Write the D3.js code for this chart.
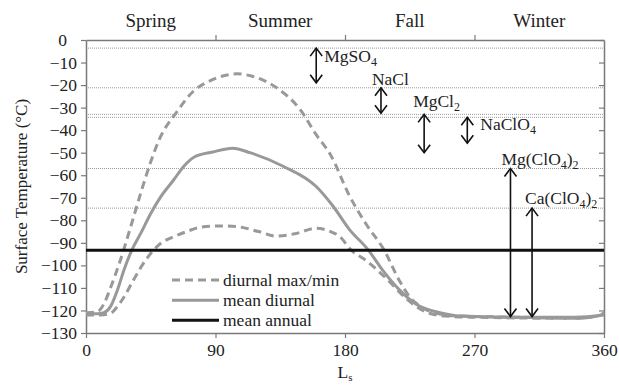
<!DOCTYPE html>
<html>
<head>
<meta charset="utf-8">
<script src="https://cdn.jsdelivr.net/npm/d3@7"></script>
<style>
  body { margin: 0; background: #fff; }
  svg text { font-family: "Liberation Serif", "Times New Roman", serif !important; fill: #222; }
</style>
</head>
<body>
<div id="chart"></div>
<script>
// seasons and ticks
const seasons = ['Spring', 'Summer', 'Fall', 'Winter'];
const seasonLs = [45, 135, 225, 315];
const xTicks = [0, 90, 180, 270, 360];
const yTicks = d3.range(0, -131, -10);

// diurnal max (dashed, upper)
const maxLs = [0, 8, 12.5, 17, 24, 31, 38, 45, 51, 63, 75, 85, 95, 105, 115, 132, 149, 160, 170, 183, 195, 207, 218, 225, 232, 245, 260, 300, 340, 355, 360];
const maxT = [-121, -120.5, -117, -110, -97.5, -83, -68, -54, -44, -32, -22.5, -18.5, -16, -15, -16, -21, -31, -42, -51, -69, -82, -93, -107, -114, -118, -121.5, -122.5, -123, -123.5, -122.5, -121];

// diurnal min (dashed, lower)
const minLs = [0, 10, 17, 21.8, 26.4, 33, 40, 47, 52, 61, 70, 80, 95, 105, 120, 132, 145, 160, 170, 176, 184, 195, 209, 223, 234, 250, 270, 340, 355, 360];
const minT = [-122, -122, -121.3, -118.3, -114, -106.5, -99, -93.2, -90.2, -87.3, -85, -83, -82.5, -82.8, -85, -87, -86, -83.5, -85, -87, -93, -98, -106, -115, -120, -122.5, -123, -123.5, -122.5, -121.5];

// mean diurnal (solid grey)
const meanLs = [0, 8, 12.5, 17, 21.8, 26.4, 32, 38, 45, 52, 61, 68, 75, 88, 102, 114, 137, 160, 172, 183, 196, 206, 218, 230, 246, 260, 300, 340, 360];
const meanT = [-121.5, -121.5, -121, -118.3, -111, -102, -93, -85.8, -77, -69.5, -62, -56, -52, -49.7, -48, -50, -56, -65, -74, -84, -93, -102, -111, -117.5, -121, -122.5, -123, -123, -122];

const meanAnnual = -93.3;

// salt eutectics and the arrows under them
const salts = ['MgSO4', 'NaCl', 'MgCl2', 'NaClO4', 'Mg(ClO4)2', 'Ca(ClO4)2'];
const eutectic = [-3.6, -21.2, -33, -34.3, -57, -74.6];
const arrowLs = [160, 205, 235, 265, 295, 310];
const arrowLow = [-19, -32.5, -50, -45.8, -122.7, -122.7];

const width = 619, height = 386;
const margin = { top: 40, right: 15, bottom: 53, left: 86 };
const serif = '"Liberation Serif", "Times New Roman", serif';

const svg = d3.select('#chart').append('svg')
  .attr('width', width)
  .attr('height', height)
  .attr('font-family', serif);

const x = d3.scaleLinear().domain([0, 360]).range([margin.left, width - margin.right]);
const y = d3.scaleLinear().domain([-130, 0]).range([height - margin.bottom, margin.top]);

const axisColor = '#7a7a7a';

// eutectic dotted lines
svg.append('g').selectAll('line')
  .data(eutectic)
  .enter().append('line')
  .attr('x1', x(0)).attr('x2', x(360))
  .attr('y1', d => y(d)).attr('y2', d => y(d))
  .attr('stroke', '#9a9a9a')
  .attr('stroke-width', 1)
  .attr('stroke-dasharray', '1,1');

// axes
const styleAxis = g => {
  g.attr('font-family', serif);
  g.select('.domain').attr('stroke', axisColor).attr('stroke-width', 1.5);
  g.selectAll('.tick line').attr('stroke', axisColor).attr('stroke-width', 1.2);
  g.selectAll('.tick text').attr('font-size', 17.5).attr('font-family', serif).attr('fill', '#222');
};

svg.append('g')
  .attr('transform', `translate(0,${y(-130)})`)
  .call(d3.axisBottom(x).tickValues(xTicks).tickSize(5).tickSizeOuter(0).tickPadding(6))
  .call(styleAxis);

svg.append('g')
  .attr('transform', `translate(0,${y(0)})`)
  .call(d3.axisTop(x).tickValues([90, 180, 270]).tickSize(5).tickSizeOuter(0).tickFormat(''))
  .call(styleAxis);

const yAxis = svg.append('g')
  .attr('transform', `translate(${x(0)},0)`)
  .call(d3.axisLeft(y).tickValues(yTicks).tickSize(5).tickSizeOuter(0).tickPadding(4))
  .call(styleAxis);
// the zero label sits a little left in the original
yAxis.selectAll('.tick text').filter(d => d === 0).attr('dx', -10);

svg.append('g')
  .attr('transform', `translate(${x(360)},0)`)
  .call(d3.axisLeft(y).tickValues(yTicks).tickSize(5).tickSizeOuter(0).tickFormat(''))
  .call(styleAxis);

// seasons across the top
svg.append('g').selectAll('text')
  .data(seasons)
  .enter().append('text')
  .attr('x', (d, i) => x(seasonLs[i]))
  .attr('y', 27)
  .attr('text-anchor', 'middle')
  .attr('font-size', 19)
  .text(d => d);

// axis titles
svg.append('text')
  .attr('transform', `translate(27,${(y(0) + y(-130)) / 2}) rotate(-90)`)
  .attr('text-anchor', 'middle')
  .attr('font-size', 17)
  .text('Surface Temperature (°C)');

const ls = svg.append('text')
  .attr('x', x(180))
  .attr('y', 378)
  .attr('text-anchor', 'middle')
  .attr('font-size', 17.5);
ls.append('tspan').text('L');
ls.append('tspan').attr('font-size', 11).attr('dy', 3).text('s');

// series
const line = d3.line()
  .x(d => x(d[0]))
  .y(d => y(d[1]))
  .curve(d3.curveMonotoneX);

const grey = '#999';

svg.append('path')
  .datum(d3.zip(maxLs, maxT))
  .attr('d', line)
  .attr('fill', 'none')
  .attr('stroke', grey)
  .attr('stroke-width', 3)
  .attr('stroke-dasharray', '8,5');

svg.append('path')
  .datum(d3.zip(minLs, minT))
  .attr('d', line)
  .attr('fill', 'none')
  .attr('stroke', grey)
  .attr('stroke-width', 3)
  .attr('stroke-dasharray', '8,5');

svg.append('path')
  .datum(d3.zip(meanLs, meanT))
  .attr('d', line)
  .attr('fill', 'none')
  .attr('stroke', grey)
  .attr('stroke-width', 3);

svg.append('line')
  .attr('x1', x(0)).attr('x2', x(360))
  .attr('y1', y(meanAnnual)).attr('y2', y(meanAnnual))
  .attr('stroke', '#111')
  .attr('stroke-width', 3);

// double headed arrows
const arrows = svg.append('g').attr('stroke', '#111').attr('stroke-width', 1.6).attr('fill', 'none');
salts.forEach((s, i) => {
  const ax = x(arrowLs[i]);
  const yt = y(eutectic[i]);
  const yb = y(arrowLow[i]);
  arrows.append('line').attr('x1', ax).attr('x2', ax).attr('y1', yt).attr('y2', yb);
  arrows.append('path').attr('d', `M${ax - 6},${yt + 8}L${ax},${yt}L${ax + 6},${yt + 8}`);
  arrows.append('path').attr('d', `M${ax - 6},${yb - 8}L${ax},${yb}L${ax + 6},${yb - 8}`);
});

// salt labels, digits drawn as subscripts
const labelOffset = [[8, 14], [-9, -3], [-11, -7], [13, 13], [-9, -3], [-7, -4]];
salts.forEach((s, i) => {
  const t = svg.append('text')
    .attr('x', x(arrowLs[i]) + labelOffset[i][0])
    .attr('y', y(eutectic[i]) + labelOffset[i][1])
    .attr('font-size', 17.5);
  let sub = false;
  s.split(/(\d)/).filter(p => p !== '').forEach(p => {
    if (/\d/.test(p)) {
      t.append('tspan').attr('font-size', 12).attr('dy', 4).text(p);
      sub = true;
    } else {
      t.append('tspan').attr('dy', sub ? -4 : 0).text(p);
      sub = false;
    }
  });
});

// legend
const legendItems = ['diurnal max/min', 'mean diurnal', 'mean annual'];
const legendY = [-106.5, -115.5, -124.3];
const legend = svg.append('g');
legendItems.forEach((d, i) => {
  const ly = y(legendY[i]);
  legend.append('line')
    .attr('x1', 172).attr('x2', 219)
    .attr('y1', ly).attr('y2', ly)
    .attr('stroke', i === 2 ? '#111' : grey)
    .attr('stroke-width', 3)
    .attr('stroke-dasharray', i === 0 ? '8,5' : null);
  legend.append('text')
    .attr('x', 223)
    .attr('y', ly + 6)
    .attr('font-size', 17.5)
    .text(d);
});
</script>
</body>
</html>
